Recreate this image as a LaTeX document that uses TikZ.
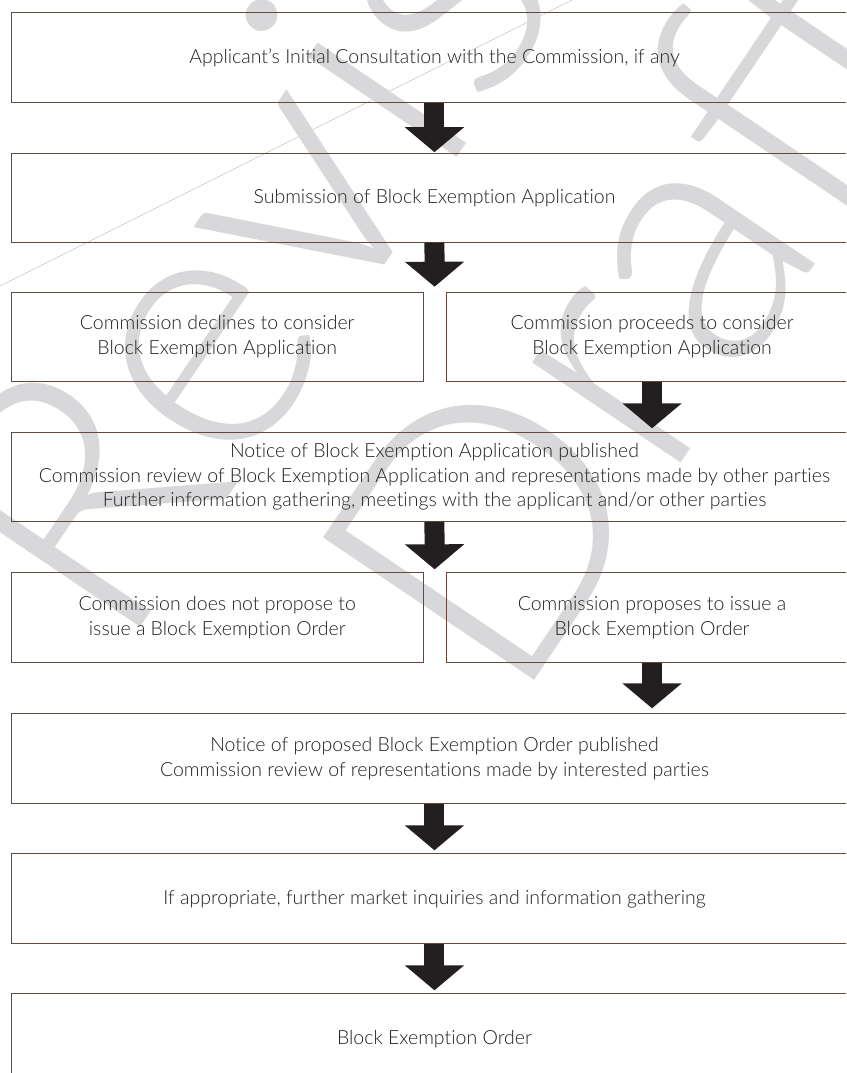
\documentclass[tikz,border=0pt]{standalone}
\usepackage{fontspec}
\setmainfont{Lato}[Ligatures=NoCommon, UprightFont={* Light}]
\newfontfamily\wmfont{Lato}[UprightFont={* Light}]
\usetikzlibrary{arrows.meta,calc}
\definecolor{boxbrown}{RGB}{105,70,60}
\definecolor{arrowblack}{RGB}{35,31,32}
\definecolor{txt}{RGB}{35,31,32}
\definecolor{wmgray}{RGB}{216,216,218}
\definecolor{wmline}{RGB}{200,200,202}
\begin{document}
\begin{tikzpicture}[x=1pt,y=-1pt,
  box/.style={draw=boxbrown, line width=0.9pt, minimum height=89pt, inner sep=0pt,
    align=center, anchor=north west, text=txt,
    font=\fontsize{19.5}{24.5}\selectfont},
  wide/.style={box, minimum width=846pt},
  half/.style={box, minimum width=411.6pt},
  blockarrow/.style={draw=arrowblack, line width=20pt, line cap=butt,
    -{Triangle[width=58pt,length=25pt]}},
  wmark/.style={text=wmgray, inner sep=0pt,
    font=\wmfont\fontsize{360}{360}\selectfont}
]
\useasboundingbox (0,0) rectangle (846,1073);
\clip (0,0) rectangle (846,1073);
\fill[white] (0,0) rectangle (846,1073);
% watermark
\draw[wmline, line width=0.6pt] (0,286) -- (572,0);
\node[wmark, rotate=56] (wmR) at (345,92) {Revised};
\node[wmark, rotate=56] (wmD) at (632,308) {Draft};
% boxes
\node[wide] (b1) at (11,12.3) [minimum height=89.7pt] {Applicant’s Initial Consultation with the Commission, if any};
\node[wide] (b2) at (11,152.7) {Submission of Block Exemption Application};
\node[half] (b3l) at (11,291.7) {Commission declines to consider\\Block Exemption Application};
\node[half] (b3r) at (445.8,291.7) {Commission proceeds to consider\\Block Exemption Application};
\node[wide] (b4) at (11,432.3) [minimum height=88.7pt] {Notice of Block Exemption Application published\\Commission review of Block Exemption Application and representations made by other parties\\Further information gathering, meetings with the applicant and/or other parties};
\node[half] (b5l) at (11,572.3) [minimum height=90pt] {Commission does not propose to\\issue a Block Exemption Order};
\node[half] (b5r) at (445.8,572.3) [minimum height=90pt] {Commission proposes to issue a\\Block Exemption Order};
\node[wide] (b6) at (11,713.3) [minimum height=90pt] {Notice of proposed Block Exemption Order published\\Commission review of representations made by interested parties};
\node[wide] (b7) at (11,853.3) [minimum height=90pt] {If appropriate, further market inquiries and information gathering};
\node[wide] (b8) at (11,993.3) [minimum height=90pt] {Block Exemption Order};
% gaps between half boxes
\coordinate (m3) at ($(b3l.north east)!0.5!(b3r.north west)$);
\coordinate (m5) at ($(b5l.north east)!0.5!(b5r.north west)$);
% arrows
\draw[blockarrow, shorten >=0.5pt] (b1.south) -- (b2.north);
\draw[blockarrow, shorten >=5pt] (b2.south) -- (m3);
\draw[blockarrow, shorten >=4pt] (b3r.south) -- (b3r.south |- b4.north);
\draw[blockarrow, shorten >=3pt] (b4.south) -- (m5);
\draw[blockarrow, shorten >=5pt] (b5r.south) -- (b5r.south |- b6.north);
\draw[blockarrow, shorten >=3pt] (b6.south) -- (b7.north);
\draw[blockarrow, shorten >=3pt] (b7.south) -- (b8.north);
\end{tikzpicture}
\end{document}
